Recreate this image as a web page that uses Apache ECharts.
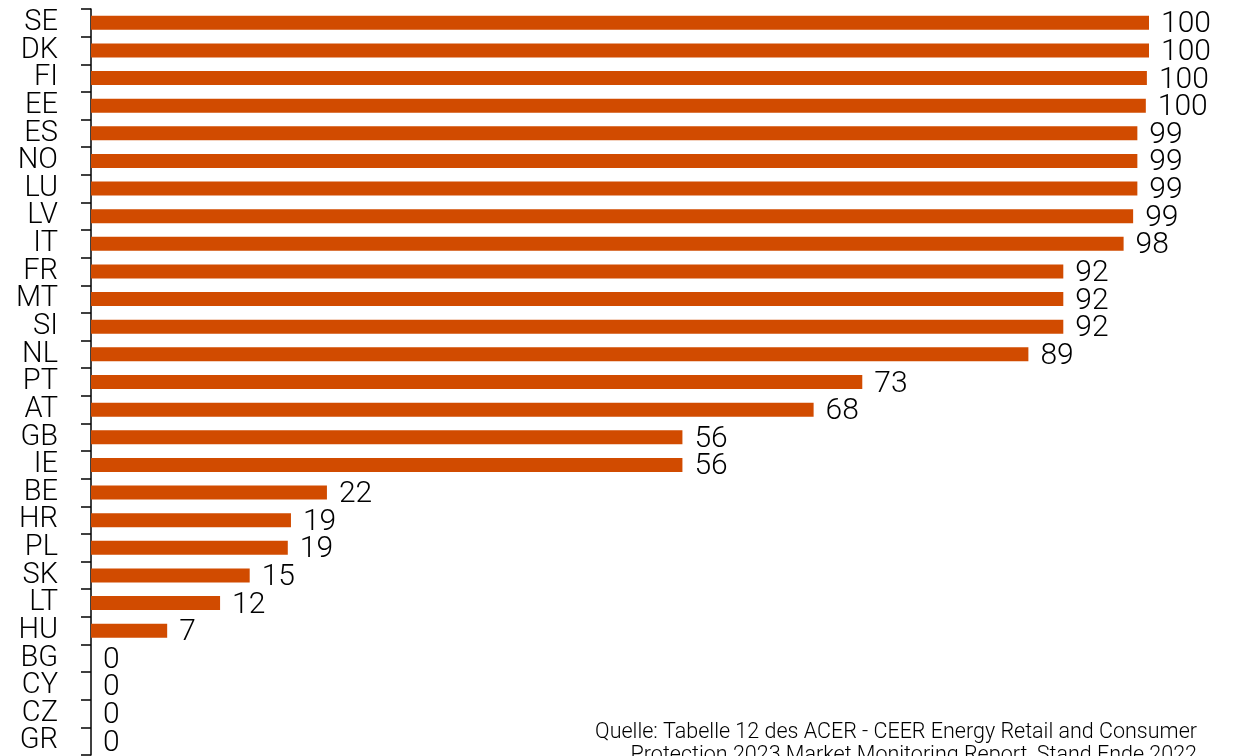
<!DOCTYPE html>
<html>
<head>
<meta charset="utf-8">
<script src="https://cdn.jsdelivr.net/npm/echarts@6/dist/echarts.min.js"></script>
<style>
  html, body { margin: 0; padding: 0; background: #fff; }
  #chart { width: 1235px; height: 756px; }
</style>
</head>
<body>
<div id="chart"></div>
<script>
var countries = ['SE','DK','FI','EE','ES','NO','LU','LV','IT','FR','MT','SI','NL','PT','AT','GB','IE','BE','HR','PL','SK','LT','HU','BG','CY','CZ','GR'];
var shares = [100, 100, 99.8, 99.7, 98.9, 98.9, 98.9, 98.5, 97.6, 91.9, 91.9, 91.9, 88.6, 72.9, 68.3, 55.9, 55.9, 22.3, 18.9, 18.6, 15.0, 12.2, 7.2, 0, 0, 0, 0];
var sourceLines = [
  'Quelle: Tabelle 12 des ACER - CEER Energy Retail and Consumer',
  'Protection 2023 Market Monitoring Report, Stand Ende 2022'
];

var font = 'Roboto, "Liberation Sans", sans-serif';
var chart = echarts.init(document.getElementById('chart'), null, {renderer: 'canvas'});

chart.setOption({
  backgroundColor: '#fff',
  animation: false,
  grid: {
    left: 91,
    right: 86,
    top: 9,
    bottom: 1,
    outerBoundsMode: 'none'
  },
  xAxis: {
    type: 'value',
    min: 0,
    max: 100,
    show: false
  },
  yAxis: {
    type: 'category',
    data: countries,
    inverse: true,
    axisLine: {show: true, lineStyle: {color: '#000', width: 1.5}},
    axisTick: {show: true, length: 10, lineStyle: {color: '#000', width: 1.5}},
    axisLabel: {
      interval: 0,
      margin: 33,
      fontSize: 29,
      fontFamily: font,
      fontWeight: 300,
      color: '#000',
      padding: [5, 0, 0, 0]
    },
    splitLine: {show: false}
  },
  series: [{
    type: 'bar',
    data: shares,
    barWidth: 14,
    itemStyle: {color: '#D14B00'},
    label: {
      show: true,
      position: 'right',
      distance: 12,
      offset: [0, 2],
      fontSize: 30,
      fontFamily: font,
      fontWeight: 300,
      color: '#000',
      formatter: function(p){ return Math.round(p.value) + ''; }
    }
  }],
  graphic: sourceLines.map(function(line, i){
    return {
      type: 'text',
      right: 38,
      top: 722 + i * 23,
      style: {
        text: line,
        fontSize: 21.5,
        fontFamily: font,
        fontWeight: 300,
        fill: '#000'
      }
    };
  })
});
</script>
</body>
</html>
